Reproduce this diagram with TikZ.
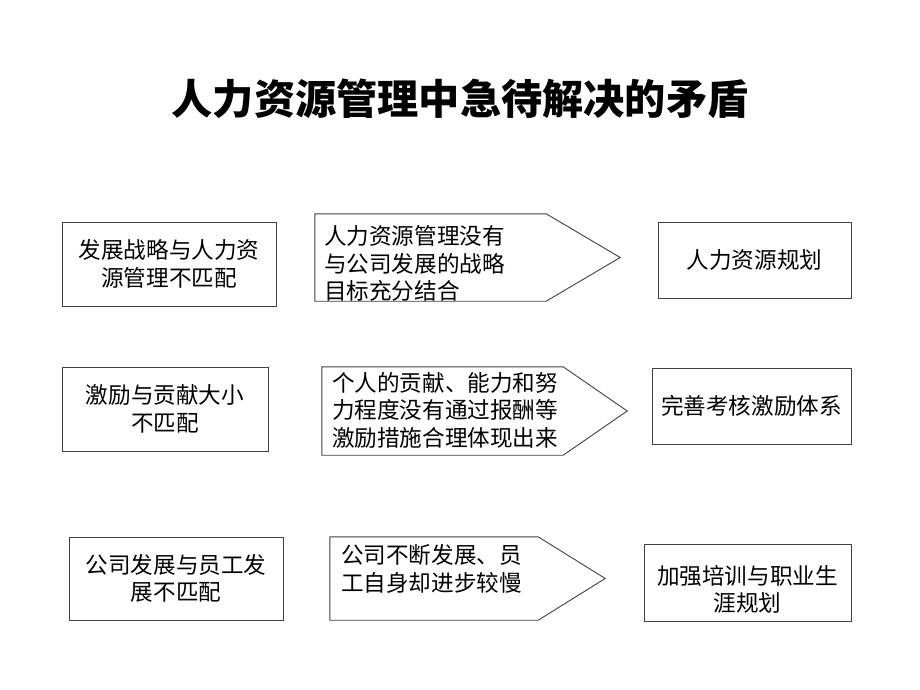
\documentclass[tikz,border=0pt]{standalone}
\usepackage{fontspec}
\newfontfamily\cjk{Noto Sans CJK SC}
\tikzset{
  sidebox/.style={draw=black!75, line width=0.9pt, fill=white, inner sep=0pt,
    align=center, font=\cjk\fontsize{22.6}{27.5}\selectfont},
  bodybox/.style={inner sep=0pt, draw=none},
  midtext/.style={inner sep=0pt, anchor=west, align=left,
    font=\cjk\fontsize{22.6}{27.5}\selectfont},
  pointline/.style={draw=black!75, line width=0.9pt, line join=miter}
}
\begin{document}
\begin{tikzpicture}[x=1pt,y=-1pt]
  \useasboundingbox (0,0) rectangle (920,690);
  % title
  \node (title) at (460,99) {\cjk\bfseries\fontsize{41.2}{46}\selectfont 人力资源管理中急待解决的矛盾};

  % left column
  \node[sidebox, minimum width=214, minimum height=84] (l1) at (169,264) {发展战略与人力资\\源管理不匹配};
  \node[sidebox, minimum width=206, minimum height=84] (l2) at (165,409) {激励与贡献大小\\不匹配};
  \node[sidebox, minimum width=214, minimum height=83] (l3) at (176,578.5) {公司发展与员工发\\展不匹配};

  % middle arrows
  \node[bodybox, minimum width=231, minimum height=87] (m1) at (430.5,257.5) {};
  \node[bodybox, minimum width=241, minimum height=88] (m2) at (442.5,411) {};
  \node[bodybox, minimum width=208, minimum height=83] (m3) at (434,578.5) {};
  \draw[pointline] (m1.north west) -- (m1.north east) -- ([xshift=74]m1.east) -- (m1.south east) -- (m1.south west) -- cycle;
  \draw[pointline] (m2.north west) -- (m2.north east) -- ([xshift=64]m2.east) -- (m2.south east) -- (m2.south west) -- cycle;
  \draw[pointline] (m3.north west) -- (m3.north east) -- ([xshift=67]m3.east) -- (m3.south east) -- (m3.south west) -- cycle;
  \node[midtext] (t1) at ([shift={(9,6)}]m1.west) {人力资源管理没有\\与公司发展的战略\\目标充分结合};
  \node[midtext] (t2) at ([shift={(10,-1)}]m2.west) {个人的贡献、能力和努\\力程度没有通过报酬等\\激励措施合理体现出来};
  \node[midtext] (t3) at ([shift={(11,-9.5)}]m3.west) {公司不断发展、员\\工自身却进步较慢};

  % right column
  \node[sidebox, minimum width=193, minimum height=76] (r1) at (754.5,260) {人力资源规划};
  \node[sidebox, minimum width=199, minimum height=76] (r2) at (751.5,406) {完善考核激励体系};
  \node[sidebox, minimum width=207, minimum height=77] (r3) at (747.5,582.5) {\rule{0pt}{33pt}加强培训与职业生\\涯规划};
\end{tikzpicture}
\end{document}
